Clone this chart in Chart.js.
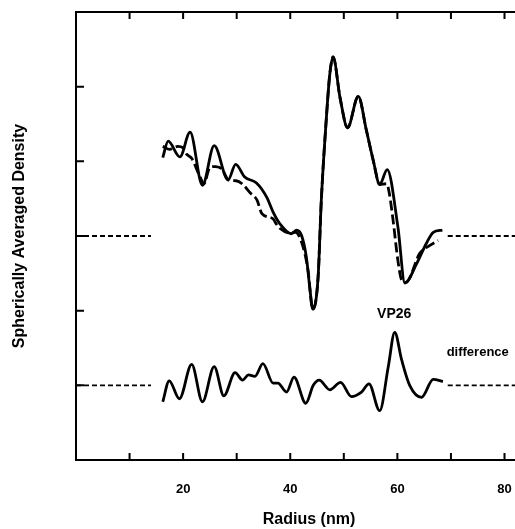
<!DOCTYPE html>
<html>
<head>
<meta charset="utf-8">
<script src="https://cdn.jsdelivr.net/npm/chart.js@4.4.1/dist/chart.umd.min.js"></script>
<style>
  html, body { margin: 0; padding: 0; background: #fff; overflow: hidden; }
</style>
</head>
<body>
<canvas id="densityChart" width="542" height="529"></canvas>
<script>
// Spherically averaged density vs radius, with VP26 difference profile

// full capsid profile (solid)
const radiusSolid = [16.2, 17.2, 19.4, 21.3, 23.6, 25.8, 28.4, 29.8, 31.5, 33.7, 35.6, 36.8, 38.1, 40.2, 41.2, 42.1, 43.0, 43.7, 44.2, 45.2, 45.8, 46.8, 47.4, 48.0, 49.3, 50.7, 52.7, 54.2, 55.5, 56.7, 58.1, 60.1, 61.4, 63.6, 65.4, 66.7, 68.4];
const densitySolid = [4.05, 4.27, 4.06, 4.39, 3.68, 4.21, 3.75, 3.96, 3.79, 3.71, 3.52, 3.32, 3.16, 3.03, 3.08, 3.01, 2.72, 2.27, 2.02, 2.45, 3.48, 4.64, 5.18, 5.40, 4.85, 4.45, 4.87, 4.42, 4.01, 3.69, 3.89, 3.12, 2.37, 2.63, 2.90, 3.05, 3.08];

// profile without VP26 (dashed)
const radiusDashed = [16.2, 17.5, 19.0, 20.0, 20.6, 21.6, 23.1, 23.9, 25.0, 26.1, 27.2, 28.5, 29.9, 31.0, 32.5, 33.8, 34.7, 36.8, 37.4, 38.1, 39.9, 41.0, 42.2, 43.3, 44.2, 45.2, 45.8, 46.8, 47.4, 48.0, 49.3, 50.7, 52.7, 54.2, 55.5, 56.7, 58.0, 58.5, 59.2, 60.1, 60.8, 61.6, 64.2, 66.0, 67.6];
const densityDashed = [4.20, 4.16, 4.20, 4.18, 4.10, 4.04, 3.80, 3.70, 3.92, 3.93, 3.90, 3.75, 3.74, 3.70, 3.58, 3.48, 3.30, 3.23, 3.16, 3.10, 3.04, 3.05, 2.90, 2.55, 2.02, 2.45, 3.48, 4.64, 5.18, 5.40, 4.85, 4.45, 4.87, 4.42, 4.01, 3.69, 3.70, 3.57, 3.21, 2.67, 2.41, 2.38, 2.77, 2.87, 2.94];

// difference (VP26)
const radiusDiff = [16.2, 17.4, 19.3, 21.6, 23.6, 25.8, 27.6, 29.7, 31.1, 32.2, 33.4, 34.9, 36.8, 37.7, 39.3, 40.7, 42.9, 44.3, 45.4, 47.4, 49.4, 51.4, 53.3, 54.7, 56.7, 58.3, 59.5, 60.8, 62.3, 64.5, 66.7, 68.5];
const densityDiff = [0.78, 1.06, 0.82, 1.28, 0.78, 1.25, 0.86, 1.17, 1.07, 1.14, 1.12, 1.29, 1.03, 1.03, 0.91, 1.11, 0.76, 1.00, 1.07, 0.94, 1.04, 0.85, 0.91, 1.02, 0.66, 1.25, 1.71, 1.34, 1.00, 0.84, 1.08, 1.05];

// zero levels drawn as short dashed stubs outside the data
const baselineLevels = [3, 1];
const baselineLeft = [0, 14];
const baselineRight = [69.4, 87];

const xTicks = [20, 40, 60, 80];
const FONT = '"Liberation Sans", Arial, Helvetica, sans-serif';

const toPoints = (xs, ys) => xs.map((x, i) => ({ x, y: ys[i] }));

const curve = (data, dash) => ({
  data,
  borderColor: '#000',
  borderWidth: 2.8,
  borderDash: dash,
  pointRadius: 0,
  fill: false,
  cubicInterpolationMode: 'monotone'
});

const stub = (xs, level) => ({
  data: xs.map(x => ({ x, y: level })),
  borderColor: '#000',
  borderWidth: 1.8,
  borderDash: [5, 3],
  pointRadius: 0,
  fill: false
});

const datasets = [
  curve(toPoints(radiusDashed, densityDashed), [10, 4]),
  curve(toPoints(radiusSolid, densitySolid), []),
  curve(toPoints(radiusDiff, densityDiff), [])
];
baselineLevels.forEach(level => {
  datasets.push(stub(baselineLeft, level));
  datasets.push(stub(baselineRight, level));
});

// inward tick marks, top frame line and the two text labels
const framePlugin = {
  id: 'frame',
  afterDraw(chart) {
    const { ctx, chartArea: a, scales: { x, y } } = chart;
    ctx.save();
    ctx.strokeStyle = '#000';
    ctx.lineWidth = 2;
    ctx.beginPath();
    ctx.moveTo(a.left, a.top);
    ctx.lineTo(a.right, a.top);
    x.ticks.forEach(t => {
      if (t.value <= 0 || t.value % 10 !== 0) return;
      const px = x.getPixelForValue(t.value);
      ctx.moveTo(px, a.bottom);
      ctx.lineTo(px, a.bottom - 7);
      ctx.moveTo(px, a.top);
      ctx.lineTo(px, a.top + 7);
    });
    y.ticks.forEach(t => {
      if (t.value <= 0 || t.value >= 6) return;
      const py = y.getPixelForValue(t.value);
      ctx.moveTo(a.left, py);
      ctx.lineTo(a.left + 8, py);
    });
    ctx.stroke();

    ctx.fillStyle = '#000';
    ctx.textAlign = 'center';
    ctx.textBaseline = 'middle';
    ctx.font = 'bold 14px ' + FONT;
    ctx.fillText('VP26', x.getPixelForValue(59.4), y.getPixelForValue(1.95));
    ctx.font = 'bold 13px ' + FONT;
    ctx.fillText('difference', x.getPixelForValue(75), y.getPixelForValue(1.44));
    ctx.restore();
  }
};

new Chart(document.getElementById('densityChart'), {
  type: 'line',
  data: { datasets },
  plugins: [framePlugin],
  options: {
    responsive: false,
    animation: false,
    layout: { padding: { top: 12, right: 0, left: 0, bottom: 0 } },
    plugins: {
      legend: { display: false },
      tooltip: { enabled: false }
    },
    scales: {
      x: {
        type: 'linear',
        min: 0,
        max: 87,
        afterFit: s => { s.height = 69; },
        // invisible tick marks only push the labels down
        grid: { display: true, drawOnChartArea: false, drawTicks: true, tickLength: 22, color: 'rgba(0,0,0,0)' },
        border: { display: true, color: '#000', width: 2 },
        ticks: {
          stepSize: 10,
          autoSkip: false,
          maxRotation: 0,
          padding: 0,
          color: '#000',
          font: { family: FONT, size: 13, weight: 'bold' },
          callback: v => (xTicks.includes(v) ? String(v) : '')
        },
        title: {
          display: true,
          text: 'Radius (nm)',
          color: '#000',
          padding: 0,
          font: { family: FONT, size: 16, weight: 'bold' }
        }
      },
      y: {
        min: 0,
        max: 6,
        afterFit: s => { s.width = 76; },
        grid: { display: false, drawTicks: false },
        border: { display: true, color: '#000', width: 2 },
        ticks: { stepSize: 1, display: false },
        title: {
          display: true,
          text: 'Spherically Averaged Density',
          color: '#000',
          padding: { top: 10 },
          font: { family: FONT, size: 16, weight: 'bold' }
        }
      }
    }
  }
});
</script>
</body>
</html>
